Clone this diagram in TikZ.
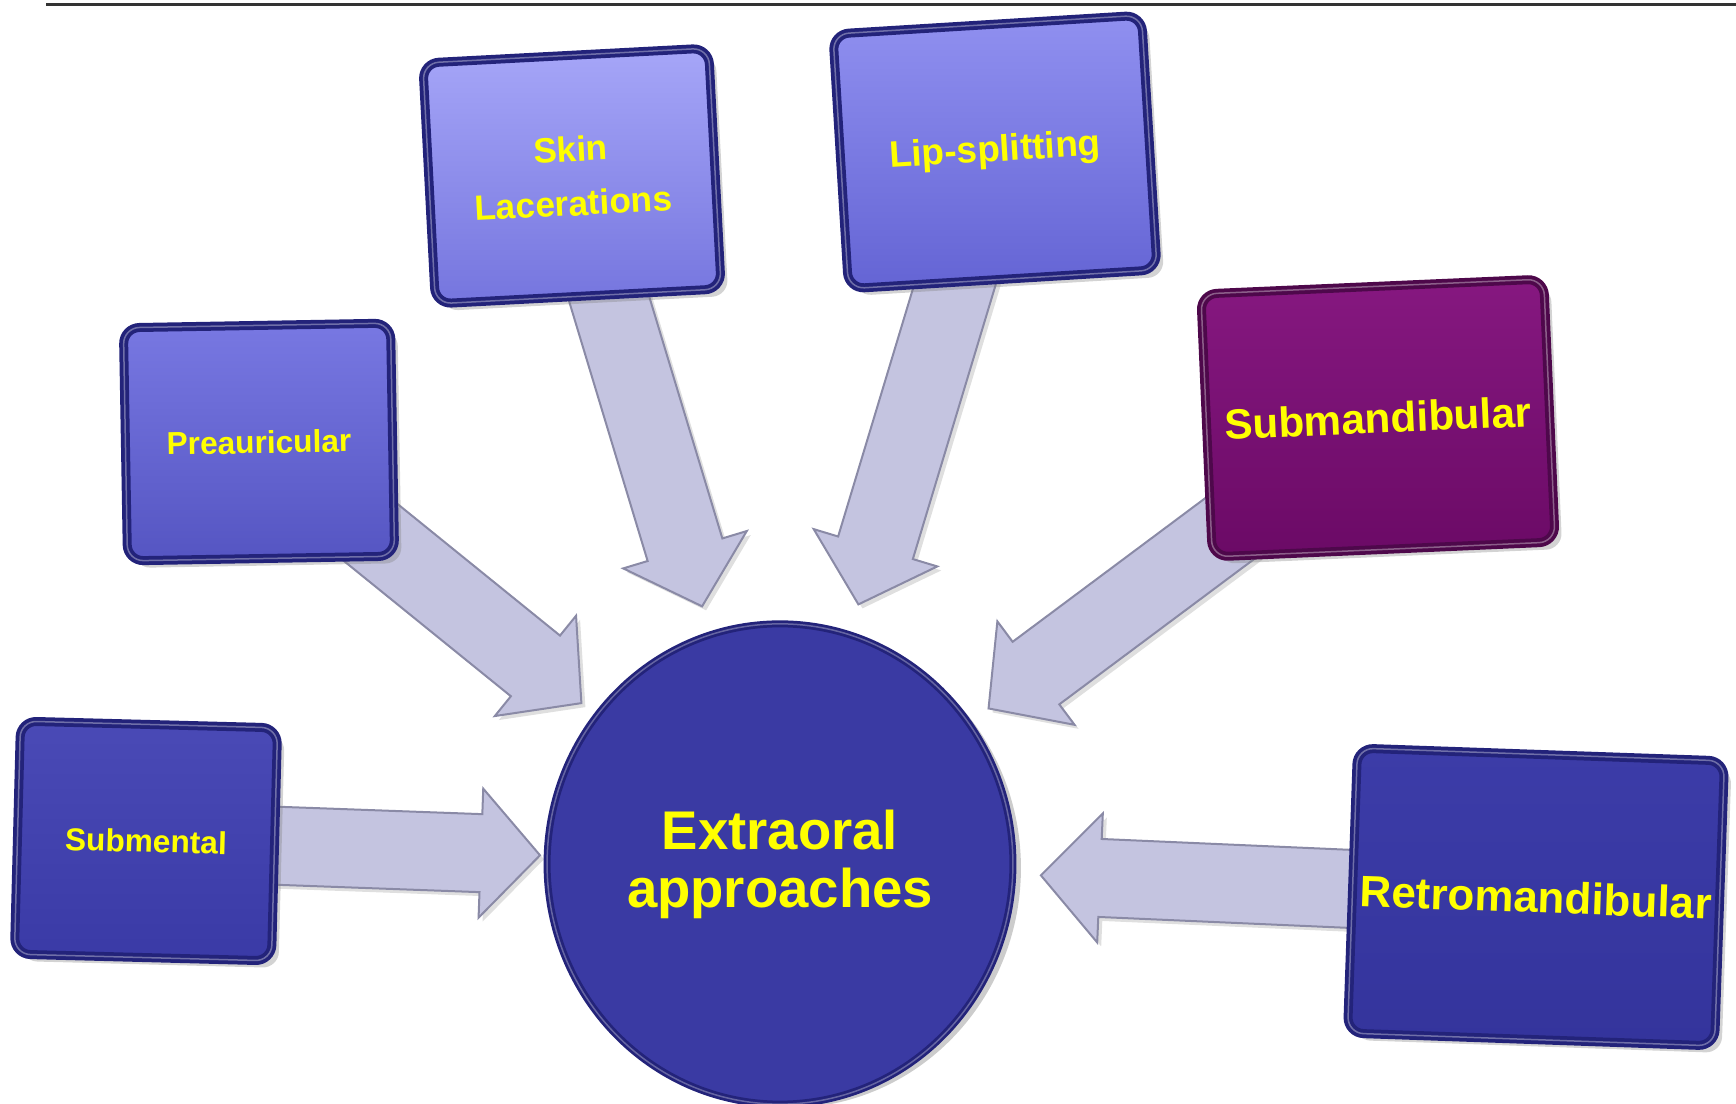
\documentclass[tikz,border=0pt]{standalone}
\usepackage{fontspec}
\setmainfont{Liberation Sans}
\usetikzlibrary{shapes.arrows,shapes.geometric,shadows,calc,positioning}

\definecolor{rimblue}{HTML}{23237A}
\definecolor{rimpurple}{HTML}{4E084B}
\definecolor{labelyellow}{HTML}{FFFF00}
\definecolor{feedfill}{HTML}{C4C4E0}
\definecolor{feedrim}{HTML}{8A8AA6}
\definecolor{hubfill}{HTML}{3A3AA3}

\pgfdeclarelayer{back}
\pgfsetlayers{back,main}

\tikzset{
  box/.style={rectangle, rounded corners=0.16cm, draw=rimblue, line width=0.09cm,
    drop shadow={shadow xshift=0.07cm, shadow yshift=-0.07cm, opacity=0.35},
    text=labelyellow, align=center, inner sep=0pt,
    postaction={draw=white, draw opacity=0.35, line width=0.015cm}},
  hub/.style={ellipse, minimum width=4.6cm, minimum height=4.8cm, fill=hubfill,
    draw=rimblue, line width=0.07cm, text=labelyellow, align=center,
    drop shadow={shadow xshift=0.08cm, shadow yshift=-0.04cm, opacity=0.4},
    postaction={draw=white, draw opacity=0.3, line width=0.015cm},
    font=\bfseries\fontsize{15.5}{16.5}\selectfont},
  feed/.style={single arrow, draw=feedrim, fill=feedfill, line width=0.02cm,
    minimum width=1.27cm, single arrow head extend=0.255cm,
    single arrow tip angle=95, inner xsep=0pt, inner ysep=0.38cm,
    drop shadow={shadow xshift=0.04cm, shadow yshift=-0.04cm, opacity=0.25}},
}

% block arrow: name, from node, to node, gap of the tip from the centre of the target
\newcommand{\feedarrow}[4]{%
  \path let \p1=(#2.center), \p2=($(#3.center)!#4!(#2.center)$),
    \n1={atan2(\y2-\y1,\x2-\x1)}, \n2={veclen(\x2-\x1,\y2-\y1)} in
    node[feed, rotate=\n1, minimum height=\n2, anchor=tail] (#1) at (\p1) {};}

\begin{document}
\begin{tikzpicture}[x=0.01cm, y=-0.01cm]
\useasboundingbox (0,0) rectangle (1736,1104);

% rule at the top
\draw[line width=0.03cm, black!80] (46,5) -- (1736,5);

% centre
\node[hub] (hub) at (780,864) {Extraoral\\approaches};

% the six approaches
\node[box, minimum width=2.57cm, minimum height=2.33cm, rotate=-1.5,
  top color={rgb,255:red,74;green,74;blue,182}, bottom color={rgb,255:red,58;green,58;blue,166},
  font=\bfseries\fontsize{9}{11}\selectfont] (submental) at (146,841) {Submental};

\node[box, minimum width=2.67cm, minimum height=2.33cm, rotate=1,
  top color={rgb,255:red,120;green,120;blue,226}, bottom color={rgb,255:red,85;green,85;blue,194},
  font=\bfseries\fontsize{9}{11}\selectfont] (preauricular) at (259,442) {Preauricular};

\node[box, minimum width=2.86cm, minimum height=2.41cm, rotate=3,
  top color={rgb,255:red,166;green,166;blue,248}, bottom color={rgb,255:red,117;green,117;blue,222},
  font=\bfseries\fontsize{10}{15.5}\selectfont] (skin) at (572,176) {Skin\\Lacerations};

\node[box, minimum width=3.09cm, minimum height=2.55cm, rotate=3.5,
  top color={rgb,255:red,144;green,144;blue,240}, bottom color={rgb,255:red,100;green,100;blue,212},
  font=\bfseries\fontsize{10.5}{12}\selectfont] (lip) at (995,152) {Lip-splitting};

\node[box, draw=rimpurple, minimum width=3.43cm, minimum height=2.63cm, rotate=2.5,
  top color={rgb,255:red,134;green,24;blue,128}, bottom color={rgb,255:red,107;green,10;blue,102},
  font=\bfseries\fontsize{12}{14}\selectfont] (submandibular) at (1378,418) {Submandibular};

\node[box, minimum width=3.67cm, minimum height=2.85cm, rotate=-2,
  top color={rgb,255:red,60;green,60;blue,168}, bottom color={rgb,255:red,52;green,52;blue,156},
  font=\bfseries\fontsize{12.5}{14}\selectfont] (retro) at (1536,897) {Retromandibular};

% arrows into the centre
\begin{pgfonlayer}{back}
\feedarrow{a-submental}{submental}{hub}{2.41cm}
\feedarrow{a-preauricular}{preauricular}{hub}{2.56cm}
\feedarrow{a-skin}{skin}{hub}{2.70cm}
\feedarrow{a-lip}{lip}{hub}{2.72cm}
\feedarrow{a-submandibular}{submandibular}{hub}{2.61cm}
\feedarrow{a-retro}{retro}{hub}{2.62cm}
\end{pgfonlayer}

\end{tikzpicture}
\end{document}
